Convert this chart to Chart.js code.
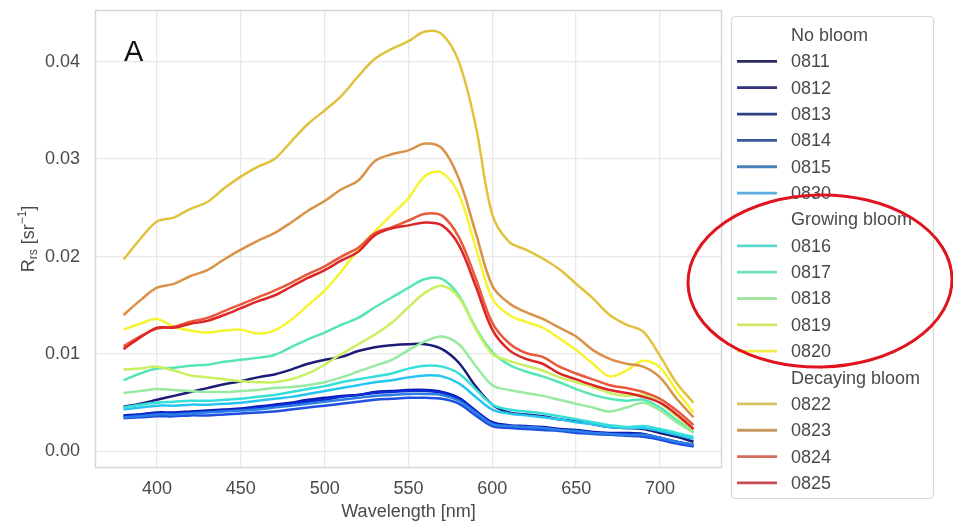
<!DOCTYPE html>
<html>
<head>
<meta charset="utf-8">
<script src="https://cdn.jsdelivr.net/npm/chart.js@4/dist/chart.umd.min.js"></script>
<style>
html,body{margin:0;padding:0;background:#fff;}
#wrap{width:953px;height:524px;position:relative;}
</style>
</head>
<body>
<div id="wrap"><canvas id="c" width="953" height="524"></canvas></div>
<script>
// ---- data ----
const wavelengths = [380,390,400,410,420,430,440,450,460,470,480,490,500,510,520,530,540,550,560,570,580,590,600,610,620,630,640,650,660,670,680,690,700,710,720];

const s0811 = [0.0046,0.0049,0.0053,0.0057,0.0061,0.0065,0.0069,0.0072,0.0076,0.0079,0.0084,0.0090,0.0094,0.0097,0.0103,0.0107,0.0109,0.0110,0.0110,0.0105,0.0091,0.0067,0.0048,0.0040,0.0038,0.0036,0.0033,0.0031,0.0028,0.0025,0.0024,0.0023,0.0019,0.0015,0.0010];
const s0812 = [0.0037,0.0038,0.0040,0.0040,0.0041,0.0042,0.0043,0.0044,0.0046,0.0048,0.0050,0.0053,0.0055,0.0057,0.0058,0.0061,0.0062,0.0063,0.0063,0.0061,0.0055,0.0042,0.0030,0.0027,0.0026,0.0025,0.0023,0.0022,0.0020,0.0019,0.0019,0.0018,0.0014,0.0010,0.0007];
const s0813 = [0.0036,0.0038,0.0039,0.0039,0.0040,0.0041,0.0042,0.0043,0.0045,0.0047,0.0049,0.0051,0.0053,0.0056,0.0058,0.0060,0.0061,0.0062,0.0062,0.0060,0.0054,0.0041,0.0029,0.0026,0.0025,0.0024,0.0022,0.0021,0.0019,0.0018,0.0018,0.0016,0.0013,0.0009,0.0006];
const s0814 = [0.0034,0.0035,0.0036,0.0036,0.0037,0.0037,0.0038,0.0039,0.0040,0.0041,0.0043,0.0045,0.0047,0.0049,0.0051,0.0053,0.0054,0.0055,0.0055,0.0054,0.0049,0.0037,0.0026,0.0024,0.0023,0.0022,0.0021,0.0019,0.0018,0.0017,0.0016,0.0015,0.0012,0.0008,0.0005];
const s0815 = [0.0035,0.0036,0.0038,0.0038,0.0039,0.0040,0.0041,0.0042,0.0043,0.0045,0.0047,0.0049,0.0051,0.0053,0.0055,0.0057,0.0058,0.0059,0.0059,0.0058,0.0052,0.0040,0.0028,0.0026,0.0025,0.0024,0.0022,0.0021,0.0019,0.0018,0.0017,0.0017,0.0014,0.0010,0.0007];
const s0830 = [0.0043,0.0045,0.0047,0.0047,0.0048,0.0048,0.0049,0.0050,0.0052,0.0054,0.0056,0.0059,0.0062,0.0065,0.0068,0.0071,0.0073,0.0076,0.0078,0.0077,0.0070,0.0056,0.0043,0.0039,0.0037,0.0035,0.0033,0.0030,0.0028,0.0025,0.0024,0.0024,0.0021,0.0017,0.0013];
const s0816 = [0.0045,0.0048,0.0050,0.0051,0.0052,0.0052,0.0053,0.0054,0.0056,0.0058,0.0061,0.0064,0.0067,0.0071,0.0074,0.0077,0.0080,0.0085,0.0088,0.0087,0.0080,0.0064,0.0048,0.0043,0.0041,0.0039,0.0036,0.0033,0.0030,0.0027,0.0025,0.0026,0.0023,0.0019,0.0015];
const s0817 = [0.0073,0.0080,0.0085,0.0086,0.0088,0.0089,0.0092,0.0094,0.0096,0.0099,0.0107,0.0115,0.0122,0.0130,0.0137,0.0148,0.0158,0.0168,0.0177,0.0177,0.0160,0.0127,0.0102,0.0089,0.0082,0.0077,0.0071,0.0064,0.0058,0.0054,0.0052,0.0053,0.0045,0.0032,0.0020];
const s0818 = [0.0060,0.0062,0.0064,0.0063,0.0062,0.0061,0.0061,0.0062,0.0063,0.0065,0.0066,0.0068,0.0071,0.0076,0.0082,0.0088,0.0094,0.0104,0.0113,0.0118,0.0110,0.0088,0.0068,0.0063,0.0060,0.0057,0.0053,0.0049,0.0045,0.0041,0.0045,0.0050,0.0042,0.0030,0.0019];
const s0819 = [0.0084,0.0085,0.0087,0.0083,0.0078,0.0076,0.0074,0.0072,0.0071,0.0071,0.0074,0.0080,0.0089,0.0100,0.0110,0.0120,0.0132,0.0148,0.0163,0.0170,0.0158,0.0126,0.0100,0.0093,0.0088,0.0083,0.0076,0.0071,0.0066,0.0060,0.0057,0.0058,0.0050,0.0036,0.0022];
const s0820 = [0.0125,0.0131,0.0136,0.0128,0.0124,0.0122,0.0124,0.0125,0.0121,0.0124,0.0135,0.0150,0.0165,0.0185,0.0207,0.0226,0.0243,0.0260,0.0283,0.0286,0.0264,0.0210,0.0157,0.0140,0.0133,0.0127,0.0116,0.0104,0.0090,0.0077,0.0083,0.0093,0.0086,0.0062,0.0040];
const s0822 = [0.0197,0.0218,0.0236,0.0240,0.0249,0.0256,0.0270,0.0282,0.0292,0.0300,0.0318,0.0336,0.0350,0.0365,0.0385,0.0403,0.0413,0.0421,0.0431,0.0428,0.0400,0.0335,0.0243,0.0215,0.0207,0.0198,0.0187,0.0172,0.0157,0.0140,0.0130,0.0123,0.0098,0.0070,0.0050];
const s0823 = [0.0140,0.0155,0.0168,0.0172,0.0180,0.0186,0.0197,0.0207,0.0216,0.0224,0.0235,0.0247,0.0257,0.0269,0.0278,0.0298,0.0305,0.0309,0.0316,0.0311,0.0280,0.0225,0.0170,0.0152,0.0143,0.0136,0.0127,0.0118,0.0104,0.0095,0.0090,0.0087,0.0076,0.0054,0.0035];
const s0824 = [0.0108,0.0118,0.0126,0.0128,0.0133,0.0137,0.0144,0.0151,0.0158,0.0165,0.0173,0.0182,0.0190,0.0200,0.0209,0.0224,0.0230,0.0237,0.0244,0.0242,0.0220,0.0178,0.0132,0.0111,0.0101,0.0097,0.0087,0.0080,0.0074,0.0068,0.0065,0.0061,0.0054,0.0042,0.0027];
const s0825 = [0.0105,0.0117,0.0127,0.0127,0.0131,0.0134,0.0140,0.0147,0.0154,0.0160,0.0169,0.0178,0.0186,0.0196,0.0205,0.0222,0.0229,0.0232,0.0235,0.0232,0.0212,0.0170,0.0125,0.0104,0.0095,0.0090,0.0080,0.0074,0.0068,0.0063,0.0060,0.0056,0.0050,0.0038,0.0023];

const groupNames = ["No bloom","Growing bloom","Decaying bloom"];
const seriesNames = ["0811","0812","0813","0814","0815","0830","0816","0817","0818","0819","0820","0822","0823","0824","0825"];
const seriesGroup = [0,0,0,0,0,0,1,1,1,1,1,2,2,2,2];
const seriesValues = [s0811,s0812,s0813,s0814,s0815,s0830,s0816,s0817,s0818,s0819,s0820,s0822,s0823,s0824,s0825];
const xTicks = [400,450,500,550,600,650,700];
const yTicks = [0.00,0.01,0.02,0.03,0.04];

// ---- styles ----
const seriesColors = ["#1c1c78","#0c18b0","#0a2cd2","#1e4fe0","#2a7ee6","#26c4f0","#36e0d8","#56e6b6","#98eaa0","#c8f060","#f6f430","#e2c23c","#d99248","#e8583a","#dc2626"];
const legendColors = ["#2a2a60","#30327a","#2e3f86","#3858a0","#4a80b8","#5aaee0","#5ed8cf","#6fdfbe","#a6e4a0","#cfe868","#eeee48","#d6c462","#c9985e","#d66c5c","#c84c58"];
const FONT = '"Liberation Sans", Arial, sans-serif';
const TXT = '#4a4a4a';

const decor = {
  id: 'decor',
  beforeDraw(chart){
    const ctx = chart.ctx;
    ctx.save(); ctx.fillStyle = '#fff'; ctx.fillRect(0,0,chart.width,chart.height); ctx.restore();
  },
  beforeDatasetsDraw(chart){
    const {ctx, chartArea:a} = chart;
    ctx.save();
    ctx.strokeStyle = '#d6d6d6'; ctx.lineWidth = 1.5;
    ctx.strokeRect(a.left+0.5, a.top+0.5, a.right-a.left-1, a.bottom-a.top-1);
    ctx.restore();
  },
  afterDraw(chart){
    const {ctx, chartArea:a} = chart;
    ctx.save();
    // panel letter
    ctx.fillStyle = '#111'; ctx.font = '29px ' + FONT;
    ctx.textBaseline = 'alphabetic'; ctx.textAlign = 'left';
    ctx.fillText('A', a.left + 29, a.top + 51);

    // x title
    ctx.fillStyle = TXT; ctx.font = '18px ' + FONT;
    ctx.textAlign = 'center'; ctx.textBaseline = 'middle';
    ctx.fillText('Wavelength [nm]', (a.left + a.right)/2, 512);

    // y title with sub/superscript
    const parts = [
      {t:'R', s:18, dy:0},
      {t:'rs', s:12, dy:3},
      {t:' [sr', s:18, dy:0},
      {t:'\u22121', s:12, dy:-8},
      {t:']', s:18, dy:0}
    ];
    let total = 0;
    parts.forEach(p => { ctx.font = p.s + 'px ' + FONT; p.w = ctx.measureText(p.t).width; total += p.w; });
    ctx.save();
    ctx.translate(34, (a.top + a.bottom)/2);
    ctx.rotate(-Math.PI/2);
    ctx.textAlign = 'left'; ctx.textBaseline = 'alphabetic';
    let x = -total/2;
    parts.forEach(p => { ctx.font = p.s + 'px ' + FONT; ctx.fillText(p.t, x, p.dy); x += p.w; });
    ctx.restore();

    // legend
    const lx = 731, ly = 16, lw = 202, lh = 482;
    ctx.fillStyle = '#fff'; ctx.strokeStyle = '#d8d8d8'; ctx.lineWidth = 1.2;
    ctx.beginPath();
    if (ctx.roundRect) ctx.roundRect(lx+0.5, ly+0.5, lw, lh, 4); else ctx.rect(lx+0.5, ly+0.5, lw, lh);
    ctx.fill(); ctx.stroke();
    const entries = [];
    groupNames.forEach((g, gi) => {
      entries.push({label:g, color:null});
      seriesNames.forEach((n, i) => { if (seriesGroup[i] === gi) entries.push({label:n, color:legendColors[i]}); });
    });
    const step = 26.35, y0 = 35;
    ctx.font = '18px ' + FONT; ctx.textAlign = 'left'; ctx.textBaseline = 'middle';
    entries.forEach((e, k) => {
      const yy = y0 + k*step;
      if (e.color) {
        ctx.strokeStyle = e.color; ctx.lineWidth = 2.8; ctx.lineCap = 'butt';
        ctx.beginPath(); ctx.moveTo(737, yy); ctx.lineTo(777, yy); ctx.stroke();
      }
      ctx.fillStyle = TXT;
      ctx.fillText(e.label, 791, yy + 1);
    });

    // red annotation ellipse
    ctx.strokeStyle = '#e0141e'; ctx.lineWidth = 3;
    ctx.beginPath();
    ctx.ellipse(820, 281, 132, 86, -0.02, 0, Math.PI*2);
    ctx.stroke();
    ctx.restore();
  }
};

const datasets = seriesNames.map((n, i) => ({
  label: n,
  data: wavelengths.map((w, j) => ({x: w, y: seriesValues[i][j]})),
  borderColor: seriesColors[i],
  borderWidth: 2.5,
  pointRadius: 0,
  tension: 0.35,
  fill: false,
  order: -i
}));

new Chart(document.getElementById('c'), {
  type: 'line',
  data: { datasets },
  plugins: [decor],
  options: {
    responsive: false,
    animation: false,
    devicePixelRatio: 1,
    layout: { padding: { left: 0, right: 231, top: 10, bottom: 0 } },
    plugins: { legend: { display: false }, tooltip: { enabled: false } },
    scales: {
      x: {
        type: 'linear', min: 363, max: 737,
        afterBuildTicks: s => { s.ticks = xTicks.map(v => ({value: v})); },
        afterFit: s => { s.height = 56; s.paddingLeft = 0; s.paddingRight = 0; },
        grid: { color: '#e8e8e8', lineWidth: 1.3, drawTicks: false },
        border: { display: false },
        ticks: { color: TXT, font: { size: 18, family: FONT }, padding: 10, maxRotation: 0 }
      },
      y: {
        type: 'linear', min: -0.0017, max: 0.0453,
        afterBuildTicks: s => { s.ticks = yTicks.map(v => ({value: v})); },
        afterFit: s => { s.width = 95; s.paddingTop = 0; s.paddingBottom = 0; },
        grid: { color: '#e8e8e8', lineWidth: 1.3, drawTicks: false },
        border: { display: false },
        ticks: { color: TXT, font: { size: 18, family: FONT }, padding: 15, callback: v => Number(v).toFixed(2) }
      }
    }
  }
});
</script>
</body>
</html>
